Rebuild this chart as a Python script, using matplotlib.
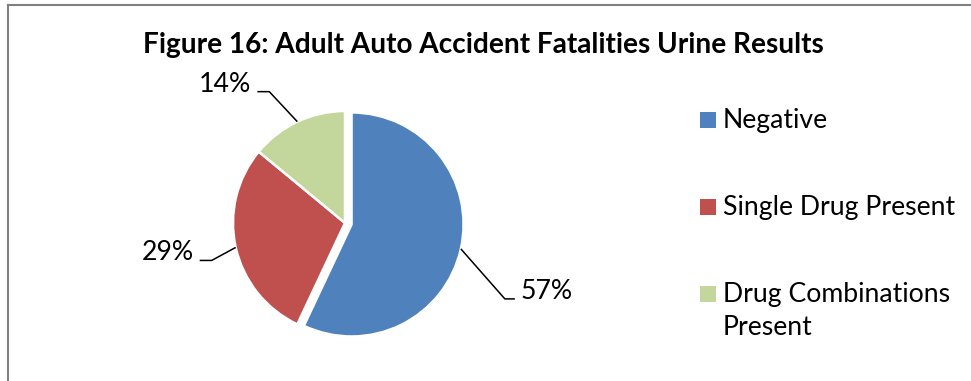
import matplotlib
matplotlib.use("Agg")
import matplotlib.pyplot as plt
from matplotlib.patches import Rectangle
from matplotlib.lines import Line2D
import numpy as np

plt.rcParams['font.family'] = ['Lato', 'DejaVu Sans']

title = "Figure 16: Adult Auto Accident Fatalities Urine Results"
categories = ["Negative", "Single Drug Present", "Drug Combinations\nPresent"]
percents = [57, 29, 14]
colors = ["#4F81BD", "#C0504D", "#C3D69B"]
explode = [0.06, 0, 0]

W, H = 971, 381
fig = plt.figure(figsize=(W / 100, H / 100), dpi=100)

# pie geometry (pixels)
R_PX = 112.0
CX, CY = 345, 223
HALF = 200
ax = fig.add_axes([(CX - HALF) / W, (H - CY - HALF) / H, 2 * HALF / W, 2 * HALF / H])
wedges, _ = ax.pie(percents, colors=colors, startangle=90, counterclock=False,
                   explode=explode, radius=1,
                   wedgeprops=dict(edgecolor="white", linewidth=1.8))
lim = HALF / R_PX
ax.set_xlim(-lim, lim)
ax.set_ylim(-lim, lim)
ax.set_aspect("equal")
ax.axis("off")

# leader label layout (pixel offsets: elbow from edge, horizontal run)
label_offsets = [(44, -50, 10), (-24, -13, -12), (-28, 30, -12)]
fontsize_lbl = 19.2
for w, pct, (dx, dy, run) in zip(wedges, percents, label_offsets):
    tm = np.deg2rad((w.theta1 + w.theta2) / 2)
    cx, cy = w.center
    ex, ey = cx + np.cos(tm), cy + np.sin(tm)
    bx, by = ex + dx / R_PX, ey + dy / R_PX
    fx = bx + run / R_PX
    ax.plot([ex, bx, fx], [ey, by, by], color="black", lw=1.1,
            solid_capstyle="butt", clip_on=False)
    gap = 6 / R_PX
    if run > 0:
        ax.text(fx + gap, by, f"{pct}%", ha="left", va="baseline", fontsize=fontsize_lbl)
    else:
        ax.text(fx - gap, by, f"{pct}%", ha="right", va="baseline", fontsize=fontsize_lbl)

# title
fig.text(483 / W, 1 - 53 / H, title, ha="center", va="baseline",
         fontsize=20.2, fontweight="bold")

# legend (manual)
leg_baselines = [128, 215, 302]
line_pitch = 33
for cat, col, yb in zip(categories, colors, leg_baselines):
    fig.patches.append(Rectangle((700 / W, 1 - yb / H), 16 / W, 16 / H,
                                 transform=fig.transFigure, facecolor=col,
                                 edgecolor="none"))
    for i, line in enumerate(cat.split("\n")):
        fig.text(723 / W, 1 - (yb + i * line_pitch) / H, line, ha="left",
                 va="baseline", fontsize=fontsize_lbl)

# outer frame (left and top visible)
fig.add_artist(Line2D([8 / W, 8 / W], [0, 1 - 5 / H], transform=fig.transFigure,
                      color="#808080", lw=1.5))
fig.add_artist(Line2D([8 / W, 1], [1 - 5 / H, 1 - 5 / H], transform=fig.transFigure,
                      color="#808080", lw=1.5))

fig.savefig("out.png", dpi=100, facecolor="white")
